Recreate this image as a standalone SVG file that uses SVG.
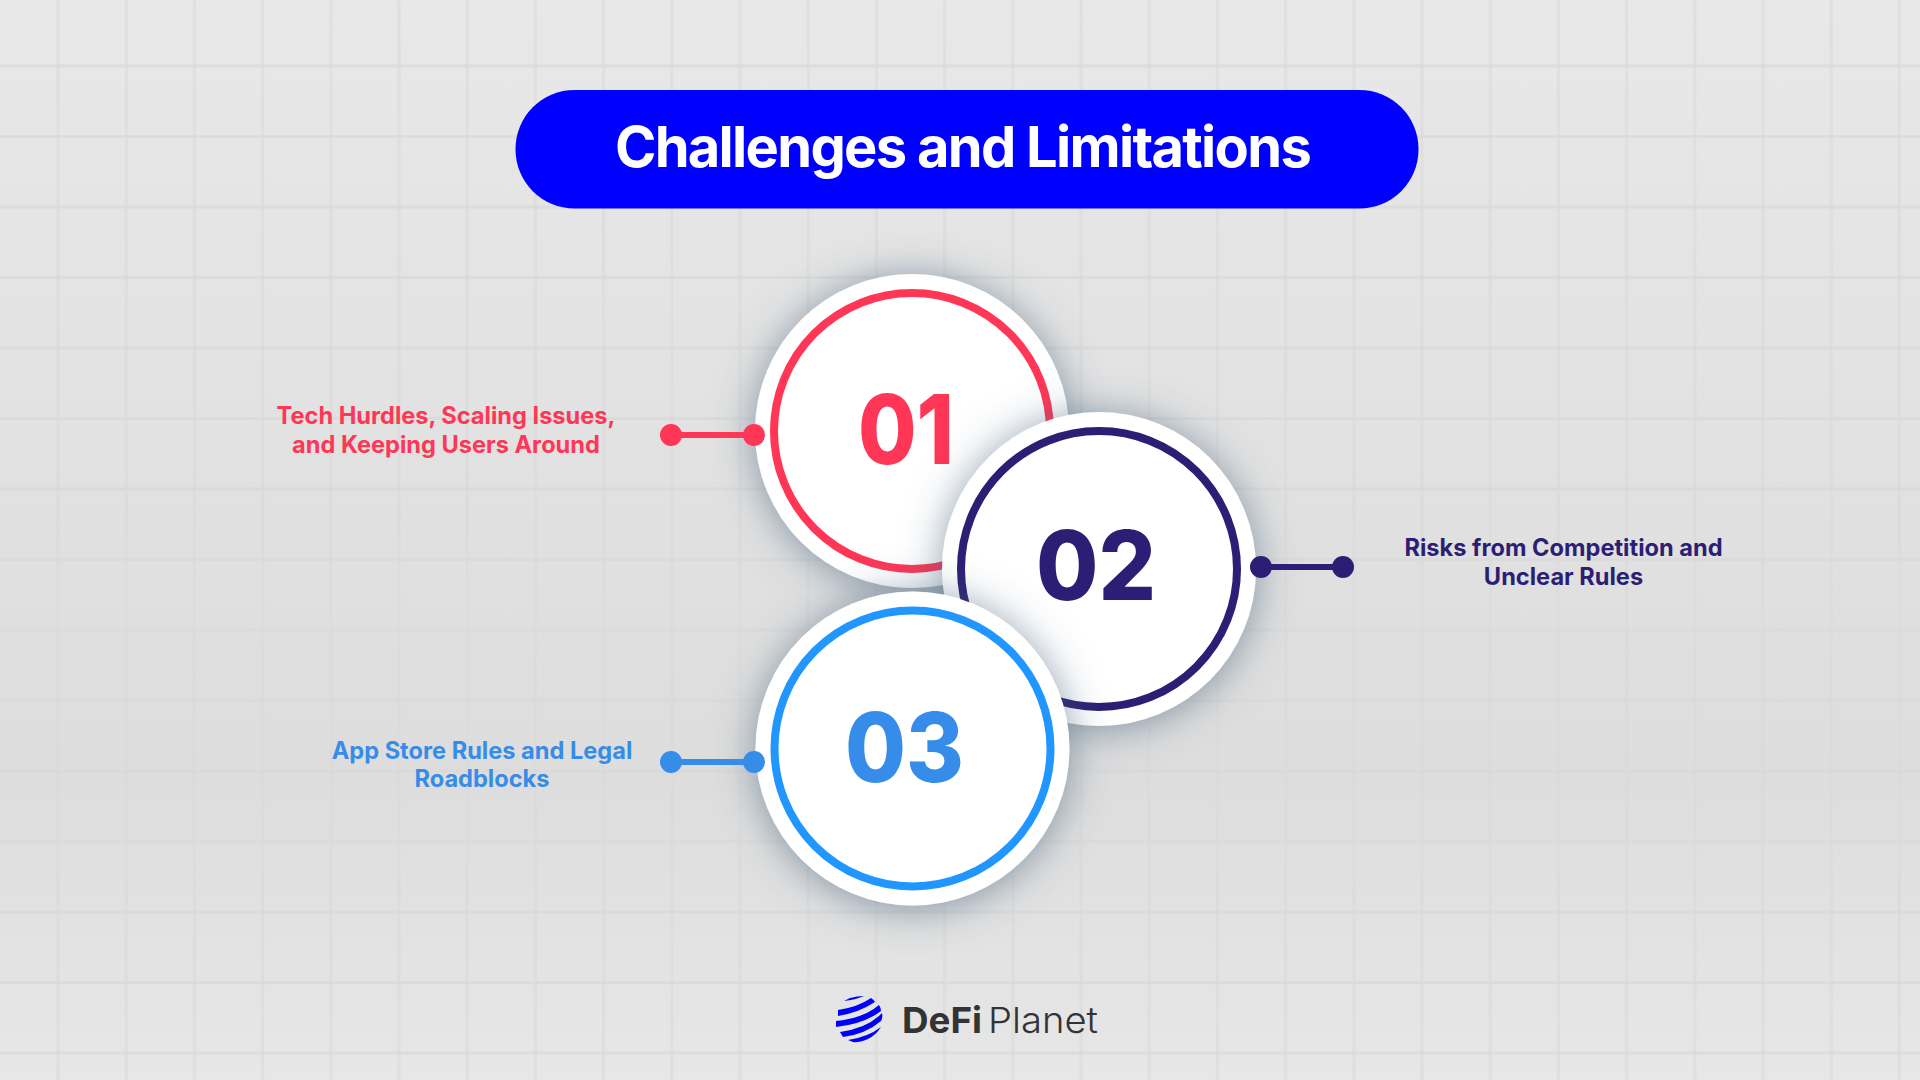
<svg xmlns="http://www.w3.org/2000/svg" width="1920" height="1080" viewBox="0 0 1920 1080">
<defs>
<linearGradient id="bg" x1="0" y1="0" x2="0" y2="1"><stop offset="0" stop-color="#e8e8e8"/><stop offset=".72" stop-color="#dddddd"/><stop offset="1" stop-color="#e7e7e7"/></linearGradient>
<filter id="sh" x="-35%" y="-35%" width="170%" height="170%"><feDropShadow dx="0" dy="3" stdDeviation="20" flood-color="#47657f" flood-opacity=".62"/></filter>
</defs>
<style>
.lbl{font-family:Inter,"Liberation Sans",sans-serif;font-weight:700;font-size:23.6px;text-anchor:middle}
.num{font-family:Inter,"Liberation Sans",sans-serif;font-weight:800;font-size:96px}
.ring{fill:#fff;stroke-width:8}
.conn line{stroke-width:6}
</style>
<rect width="1920" height="1080" fill="url(#bg)"/>
<path id="grid-v" fill="none" stroke="#d9d9d9" stroke-opacity=".55" stroke-width="3" d="M58 0V1080M126.200 0V1080M194.400 0V1080M262.600 0V1080M330.800 0V1080M399 0V1080M467.200 0V1080M535.400 0V1080M603.600 0V1080M671.800 0V1080M740 0V1080M808.200 0V1080M876.400 0V1080M944.600 0V1080M1012.800 0V1080M1081 0V1080M1149.200 0V1080M1217.400 0V1080M1285.600 0V1080M1353.800 0V1080M1422 0V1080M1490.200 0V1080M1558.400 0V1080M1626.600 0V1080M1694.800 0V1080M1763 0V1080M1831.200 0V1080M1899.400 0V1080"/>
<path id="grid-h" fill="none" stroke="#d9d9d9" stroke-opacity=".7" stroke-width="3" d="M0 66H1920M0 136.500H1920M0 207H1920M0 277.500H1920M0 348H1920M0 418.500H1920M0 489H1920M0 559.500H1920M0 630H1920M0 700.500H1920M0 771H1920M0 841.500H1920M0 912H1920M0 982.500H1920M0 1053H1920"/>
<g id="title"><rect x="515.500" y="90" width="903" height="118.500" rx="59" fill="#0000ff"/><text x="962.500" y="167" text-anchor="middle" font-family="Inter, 'Liberation Sans', sans-serif" font-weight="700" font-size="56" letter-spacing="-1.7" fill="#fff">Challenges and Limitations</text></g>
<g id="node-01"><circle cx="912" cy="431" r="157" fill="#fff" filter="url(#sh)"/><circle class="ring" cx="912" cy="431" r="138" fill="#fff" stroke="#ff3656"/><text class="num" x="858" y="464" fill="#ff3656" textLength="96" lengthAdjust="spacingAndGlyphs">01</text></g>
<g id="node-02"><circle cx="1099" cy="569" r="157" fill="#fff" filter="url(#sh)"/><circle class="ring" cx="1099" cy="569" r="138" fill="#fff" stroke="#2b1e74"/><text class="num" x="1036" y="600" fill="#2b1e74" textLength="120" lengthAdjust="spacingAndGlyphs">02</text></g>
<g id="node-03"><circle cx="912.500" cy="748.500" r="157" fill="#fff" filter="url(#sh)"/><circle class="ring" cx="912.500" cy="748.500" r="138" fill="#fff" stroke="#2196ff"/><text class="num" x="845" y="782" fill="#368ce9" textLength="119" lengthAdjust="spacingAndGlyphs">03</text></g>
<g id="connectors" class="conn">
<line x1="671" y1="435" x2="754" y2="435" stroke="#ff3656"/><circle cx="671" cy="435" r="11" fill="#ff3656"/><circle cx="754" cy="435" r="11" fill="#ff3656"/>
<line x1="1261" y1="567" x2="1343" y2="567" stroke="#2b1e74"/><circle cx="1261" cy="567" r="11" fill="#2b1e74"/><circle cx="1343" cy="567" r="11" fill="#2b1e74"/>
<line x1="671" y1="762" x2="754" y2="762" stroke="#368ce9"/><circle cx="671" cy="762" r="11" fill="#368ce9"/><circle cx="754" cy="762" r="11" fill="#368ce9"/>
</g>
<g id="label-01"><text class="lbl" x="446" y="424" fill="#ff3656">Tech Hurdles, Scaling Issues,</text><text class="lbl" x="446" y="453" fill="#ff3656">and Keeping Users Around</text></g>
<g id="label-02"><text class="lbl" x="1563.500" y="556" fill="#2b1e74">Risks from Competition and</text><text class="lbl" x="1563.500" y="585" fill="#2b1e74">Unclear Rules</text></g>
<g id="label-03"><text class="lbl" x="482" y="758.500" fill="#368ce9">App Store Rules and Legal</text><text class="lbl" x="482" y="787" fill="#368ce9">Roadblocks</text></g>
<g id="logo"><g fill="#0000ff">
<path d="M844 1001Q855 1000 864 996Q857 996 850 998Z"/>
<path d="M838 1010Q858 1007 871 998Q874 1000 875 1002Q858 1013 838 1016Z"/>
<path d="M836 1021Q864 1018 879 1005Q881 1008 881 1011Q864 1024 836 1027Z"/>
<path d="M840 1032Q868 1028 882 1013Q883 1018 881 1021Q866 1034 843 1037Z"/>
<path d="M848 1040Q868 1037 881 1027Q876 1035 868 1039Q858 1043 853 1042Z"/>
</g>
<text x="902" y="1033" font-family="Inter, 'Liberation Sans', sans-serif" font-weight="700" font-size="36" fill="#333" textLength="80" lengthAdjust="spacingAndGlyphs">DeFi</text>
<text x="988" y="1033" font-family="Inter, 'Liberation Sans', sans-serif" font-weight="300" font-size="36" fill="#333" textLength="110" lengthAdjust="spacingAndGlyphs">Planet</text></g>
</svg>
